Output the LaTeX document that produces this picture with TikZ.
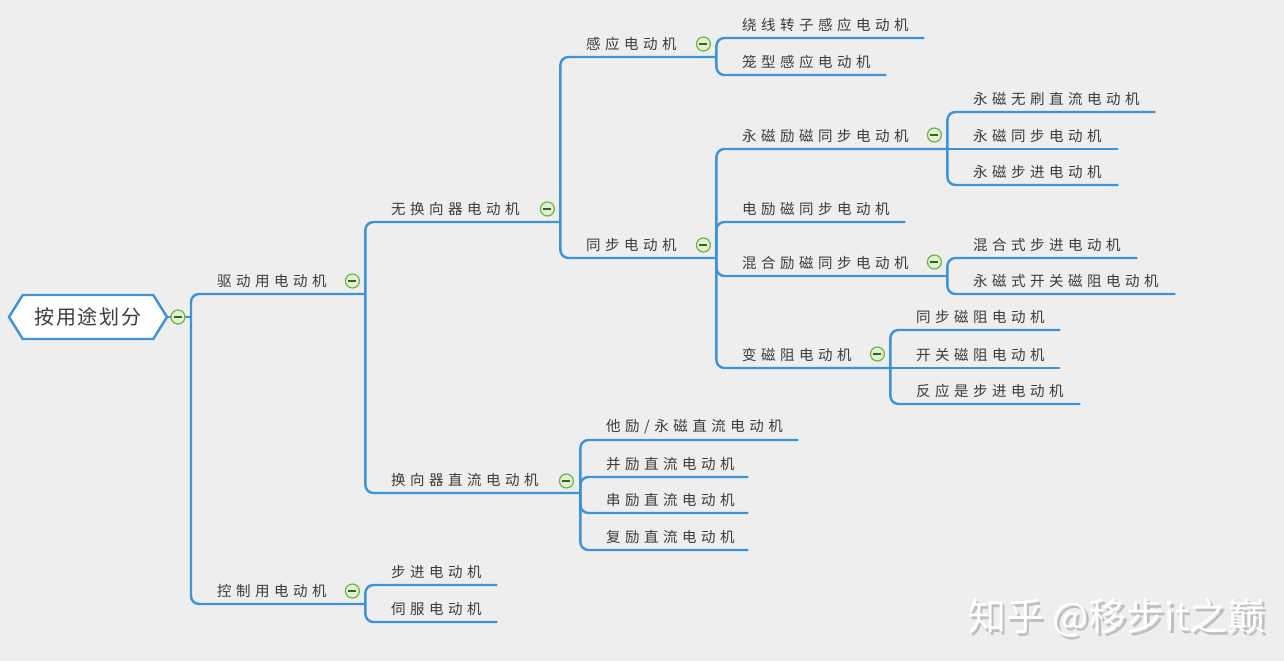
\documentclass[tikz,border=0pt]{standalone}
\usepackage{fontspec}
\usepackage{tikz}
\usetikzlibrary{shapes.symbols}
\newfontfamily\cjk[LetterSpace=31]{Noto Sans CJK SC}
\newfontfamily\rootfont[LetterSpace=8]{Noto Sans CJK SC}
\newfontfamily\markfont{Noto Sans CJK SC}
\definecolor{bgcol}{HTML}{EEEEEE}
\definecolor{linkblue}{HTML}{3D93D8}
\definecolor{txtcol}{HTML}{3C3C3C}
\definecolor{iconline}{HTML}{6CB245}
\definecolor{iconfill}{HTML}{E0F2D0}

\tikzset{
  topic/.style={anchor=south west, inner sep=0, minimum height=26pt, align=left,
    text=txtcol, font=\cjk\fontsize{14.5}{17}\selectfont},
  link/.style={draw=linkblue, line width=2.4pt, rounded corners=8pt},
  collapse/.style={circle, draw=iconline, fill=iconfill, line width=1.2pt,
    minimum size=14pt, inner sep=0,
    path picture={\draw[iconline!55!black, line width=1.1pt]
      ([xshift=-4pt]path picture bounding box.center) --
      ([xshift=4pt]path picture bounding box.center);}}
}
\newcommand{\topic}[5]{\node[topic, text width=#4pt] (#1) at (#2,#3) {\hspace*{26pt}#5};}

\begin{document}
\begin{tikzpicture}[x=1pt,y=-1pt]
    \fill[bgcol] (0,0) rectangle (1284,661);

    % root
    \node[signal, signal to=west and east, signal pointer angle=116, draw=linkblue,
      fill=white, line width=2.4pt, minimum width=158pt, minimum height=44pt,
      inner sep=0, text=txtcol, font=\rootfont\fontsize{20}{22}\selectfont]
      (root) at (88,317) {按用途划分};
    \coordinate (rootbus) at (191,317);

    % level 1
    \topic{qd}{191}{294}{174}{驱动用电动机}
    \topic{kz}{191}{604}{174}{控制用电动机}

    % level 2
    \topic{wh}{365}{222}{195}{无换向器电动机}
    \topic{hx}{365}{493}{215}{换向器直流电动机}
    \topic{bj}{365}{585}{132}{步进电动机}
    \topic{sf}{365}{622}{132}{伺服电动机}

    % level 3
    \topic{gy}{560}{57}{156}{感应电动机}
    \topic{tb}{560}{258}{156}{同步电动机}
    \topic{tl}{580}{440}{218}{他励/永磁直流电动机}
    \topic{bl}{580}{477}{168}{并励直流电动机}
    \topic{cl}{580}{513}{168}{串励直流电动机}
    \topic{fl}{580}{550}{168}{复励直流电动机}

    % level 4
    \topic{rx}{716}{38}{208}{绕线转子感应电动机}
    \topic{lx}{716}{75}{170}{笼型感应电动机}
    \topic{ymlc}{716}{149}{231}{永磁励磁同步电动机}
    \topic{dlc}{716}{222}{189}{电励磁同步电动机}
    \topic{hh}{716}{276}{231}{混合励磁同步电动机}
    \topic{bcz}{716}{368}{174}{变磁阻电动机}

    % level 5
    \topic{ymws}{947}{112}{208}{永磁无刷直流电动机}
    \topic{ymtb}{947}{149}{171}{永磁同步电动机}
    \topic{ymbj}{947}{185}{171}{永磁步进电动机}
    \topic{hhbj}{947}{258}{190}{混合式步进电动机}
    \topic{kgcz}{947}{294}{228}{永磁式开关磁阻电动机}
    \topic{tbcz}{890}{330}{170}{同步磁阻电动机}
    \topic{kg}{890}{368}{170}{开关磁阻电动机}
    \topic{fy}{890}{404}{190}{反应是步进电动机}

    % connectors
    \draw[link] (root.east) -- (rootbus);
    \draw[link] (rootbus) |- (qd.south east);
    \draw[link] (rootbus) |- (kz.south east);

    \draw[link] (qd.south east) |- (wh.south east);
    \draw[link] (qd.south east) |- (hx.south east);
    \draw[link] (kz.south east) |- (bj.south east);
    \draw[link] (kz.south east) |- (sf.south east);

    \draw[link] (wh.south east) |- (gy.south east);
    \draw[link] (wh.south east) |- (tb.south east);
    \draw[link] (hx.south east) |- (tl.south east);
    \draw[link] (hx.south east) |- (bl.south east);
    \draw[link] (hx.south east) |- (cl.south east);
    \draw[link] (hx.south east) |- (fl.south east);

    \draw[link] (gy.south east) |- (rx.south east);
    \draw[link] (gy.south east) |- (lx.south east);
    \draw[link] (tb.south east) |- (ymlc.south east);
    \draw[link] (tb.south east) |- (dlc.south east);
    \draw[link] (tb.south east) |- (hh.south east);
    \draw[link] (tb.south east) |- (bcz.south east);

    \draw[link] (ymlc.south east) |- (ymws.south east);
    \draw[link] (ymlc.south east) -- (ymtb.south east);
    \draw[link] (ymlc.south east) |- (ymbj.south east);
    \draw[link] (hh.south east) |- (hhbj.south east);
    \draw[link] (hh.south east) |- (kgcz.south east);
    \draw[link] (bcz.south east) |- (tbcz.south east);
    \draw[link] (bcz.south east) -- (kg.south east);
    \draw[link] (bcz.south east) |- (fy.south east);

    % collapse marks
    \node[collapse] (root-c) at (178,317) {};
    \node[collapse] (qd-c) at ([shift={(-13pt,13pt)}]qd.south east) {};
    \node[collapse] (kz-c) at ([shift={(-13pt,13pt)}]kz.south east) {};
    \node[collapse] (wh-c) at ([shift={(-13pt,13pt)}]wh.south east) {};
    \node[collapse] (hx-c) at ([shift={(-14pt,12pt)}]hx.south east) {};
    \node[collapse] (gy-c) at ([shift={(-13pt,13pt)}]gy.south east) {};
    \node[collapse] (tb-c) at ([shift={(-13pt,13pt)}]tb.south east) {};
    \node[collapse] (ymlc-c) at ([shift={(-13pt,14pt)}]ymlc.south east) {};
    \node[collapse] (hh-c) at ([shift={(-13pt,14pt)}]hh.south east) {};
    \node[collapse] (bcz-c) at ([shift={(-13pt,14pt)}]bcz.south east) {};

    % watermark
    \node[text=black!25, font=\markfont\fontsize{38}{42}\selectfont] (wm-s) at (1119.5,620.5) {知乎 @移步it之巅};
    \node[text=white, font=\markfont\fontsize{38}{42}\selectfont] (wm) at (1117,618) {知乎 @移步it之巅};
\end{tikzpicture}
\end{document}
